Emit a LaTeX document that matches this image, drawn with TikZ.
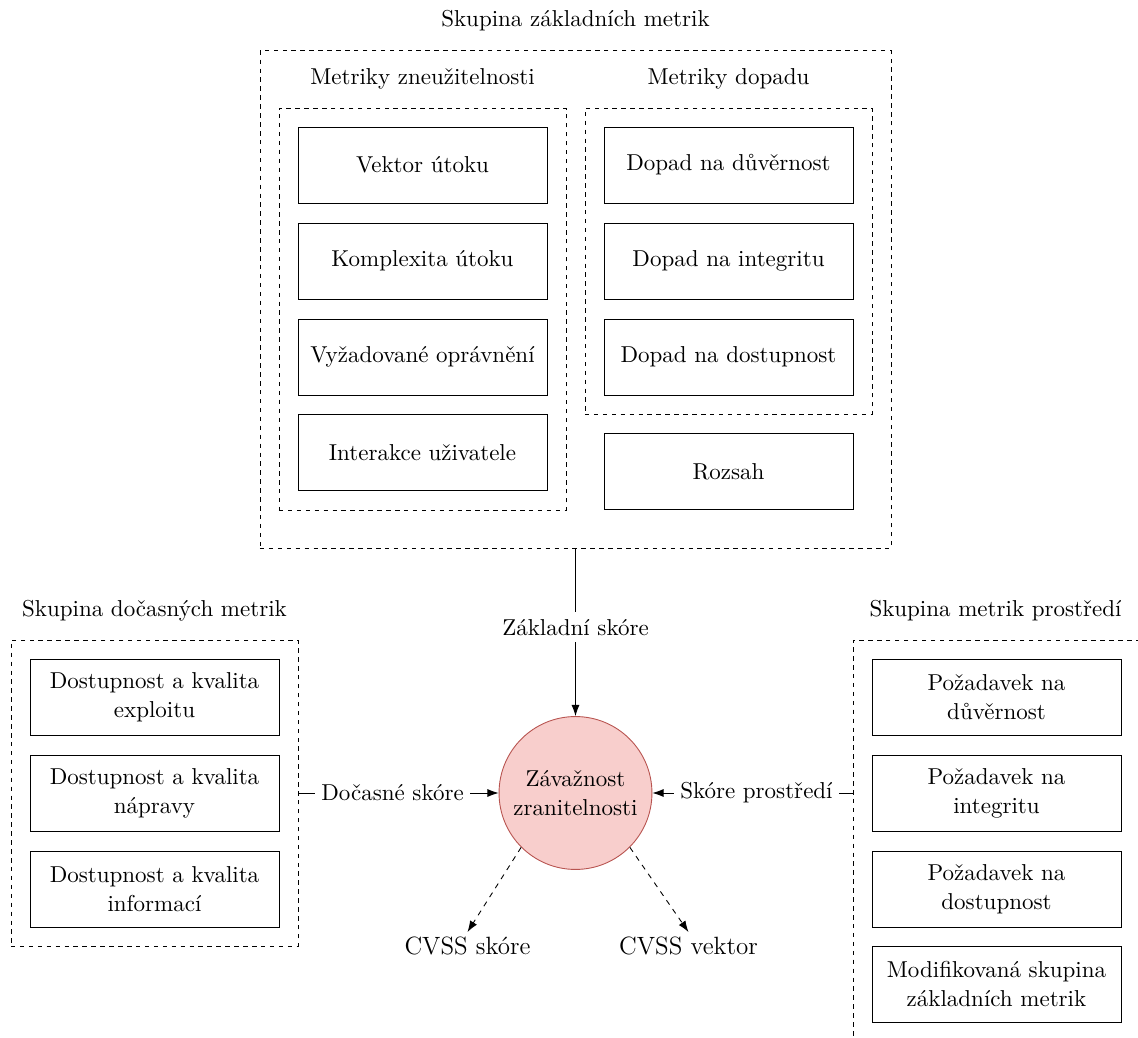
\documentclass[tikz,border=0pt]{standalone}
\usepackage{fontspec}
\usetikzlibrary{arrows.meta}
\definecolor{sevfill}{HTML}{F8CECC}
\definecolor{sevdraw}{HTML}{B85450}
\newcommand\basesize{\fontsize{10.3}{13}\selectfont}
\begin{document}
\begin{tikzpicture}[x=0.448pt,y=-0.448pt,line width=0.4pt,
  every node/.style={font=\basesize},
  metric/.style={draw,minimum width=111.55pt,minimum height=34.05pt,align=center,inner sep=2pt},
  group/.style={draw,dash pattern=on 2pt off 2pt,minimum width=#1},
  caption/.style={inner sep=0pt},
  score/.style={fill=white,inner sep=3pt},
  conn/.style={-{Latex[length=5pt,width=3.6pt]}},
  resultarrow/.style={-{Latex[length=5pt,width=3.6pt]},dash pattern=on 2.4pt off 2.4pt}]
\useasboundingbox (0,0) rectangle (1138,1038);
\begin{scope}
\clip (0,0) rectangle (1138,1038);

% base metric group
\node[group=282.7pt,minimum height=222.7pt] (base) at (575.5,299.5) {};
\node[caption] (baset) at (575.5,21) {Skupina základních metrik};

% exploitability metrics
\node[group=128.6pt,minimum height=180.1pt] (expl) at (422.5,309) {};
\node[caption] (explt) at (422.5,79) {Metriky zneužitelnosti};
\node[metric] (av) at (422.5,165) {Vektor útoku};
\node[metric] (ac) at (422.5,261) {Komplexita útoku};
\node[metric] (pr) at (422.5,357) {Vyžadované oprávnění};
\node[metric] (ui) at (422.5,452.5) {Interakce uživatele};

% impact metrics
\node[group=128.6pt,minimum height=137.1pt] (imp) at (728.5,261) {};
\node[caption] (impt) at (728.5,79) {Metriky dopadu};
\node[metric] (ci) at (728.5,165) {Dopad na důvěrnost};
\node[metric] (ii) at (728.5,261) {Dopad na integritu};
\node[metric] (ai) at (728.5,357) {Dopad na dostupnost};
\node[metric] (sc) at (728.5,471.5) {Rozsah};

% temporal metric group
\node[group=128.6pt,minimum height=137.1pt] (temp) at (154.5,793) {};
\node[caption] (tempt) at (154.5,611) {Skupina dočasných metrik};
\node[metric] (em) at (154.5,697) {Dostupnost a kvalita\\exploitu};
\node[metric] (rl) at (154.5,793) {Dostupnost a kvalita\\nápravy};
\node[metric] (rc) at (154.5,889) {Dostupnost a kvalita\\informací};

% environmental metric group
\node[group=128.6pt,minimum height=179.6pt] (env) at (996.5,840.5) {};
\node[caption] (envt) at (995.5,611) {Skupina metrik prostředí};
\node[metric] (cr) at (996.5,697) {Požadavek na\\důvěrnost};
\node[metric] (ir) at (996.5,793) {Požadavek na\\integritu};
\node[metric] (ar) at (996.5,889) {Požadavek na\\dostupnost};
\node[metric] (mb) at (996.5,984.5) {Modifikovaná skupina\\základních metrik};

% severity
\node[circle,draw=sevdraw,fill=sevfill,minimum size=68.5pt,align=center,inner sep=1pt] (sev) at (575.5,793) {Závažnost\\zranitelnosti};

\node[font=\fontsize{11.2}{13}\selectfont,inner sep=2pt] (cvs) at (467.5,946) {CVSS skóre};
\node[font=\fontsize{11.2}{13}\selectfont,inner sep=2pt] (cvv) at (688.5,946) {CVSS vektor};

% connectors
\draw[conn] (base.south) -- node[score,pos=0.47] {Základní skóre} (sev.north);
\draw[conn] (temp.east) -- node[score,pos=0.47] {Dočasné skóre} (sev.west);
\draw[conn] (env.west |- sev.east) -- node[score,pos=0.48] {Skóre prostředí} (sev.east);
\draw[resultarrow] (sev.south west) -- (cvs.north);
\draw[resultarrow] (sev.south east) -- (cvv.north);
\end{scope}
\end{tikzpicture}
\end{document}
